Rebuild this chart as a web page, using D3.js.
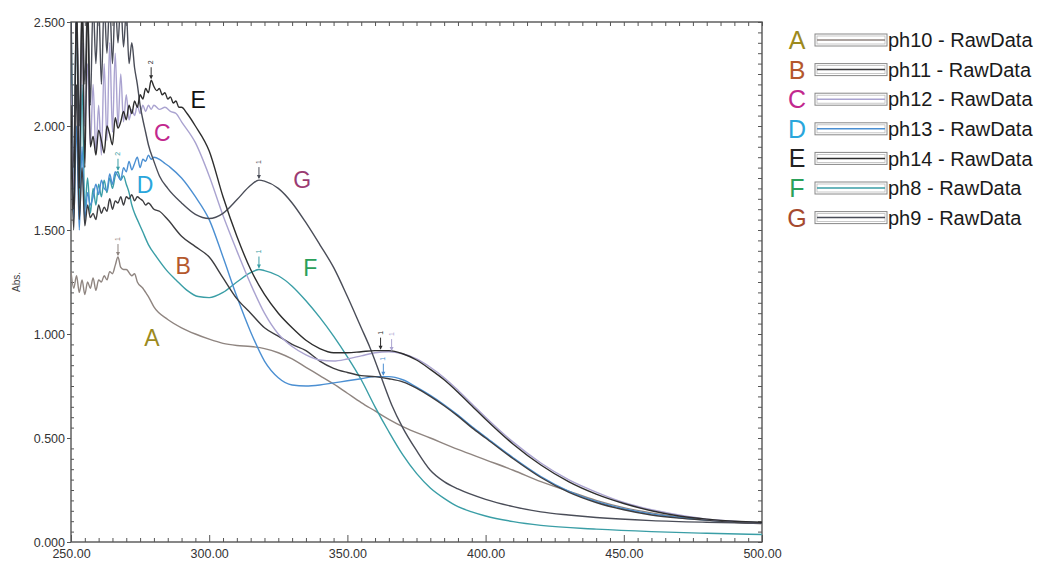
<!DOCTYPE html>
<html>
<head>
<meta charset="utf-8">
<script src="https://cdn.jsdelivr.net/npm/d3@7"></script>
<style>
body { margin: 0; background: #fff; }
svg text { font-family: "Liberation Sans", Arial, sans-serif; }
</style>
</head>
<body>
<svg id="chart" width="1037" height="567"></svg>
<script>
// absorbance spectra, [wavelength nm, Abs.]
var ph10 = [[250,1.30],[251,1.22],[252,1.28],[253,1.20],[254,1.26],[255,1.19],[256,1.25],[257,1.22],[258,1.27],[259,1.21],[260,1.26],[261,1.25],[262,1.28],[263,1.26],[264,1.30],[265,1.29],[266,1.33],[267,1.37],[268,1.32],[269,1.31],[270,1.31],[272,1.28],[273,1.29],[274,1.25],[276,1.22],[277,1.20],[278,1.18],[280,1.13],[285,1.07],[290,1.03],[295,1.00],[300,0.975],[305,0.955],[310,0.945],[315,0.94],[320,0.93],[325,0.91],[330,0.88],[335,0.84],[340,0.80],[345,0.76],[350,0.715],[355,0.67],[360,0.63],[365,0.59],[370,0.555],[380,0.50],[390,0.445],[400,0.395],[410,0.345],[420,0.29],[430,0.245],[440,0.20],[450,0.165],[460,0.14],[470,0.12],[480,0.105],[490,0.095],[500,0.088]];
var ph11 = [[250,1.90],[251,1.50],[252,2.20],[253,1.55],[254,1.80],[255,1.52],[256,1.62],[257,1.56],[258,1.58],[259,1.55],[260,1.62],[261,1.58],[262,1.61],[263,1.59],[264,1.65],[265,1.60],[266,1.64],[267,1.63],[268,1.66],[269,1.62],[270,1.66],[271,1.65],[272,1.67],[273,1.64],[274,1.66],[275,1.65],[276,1.64],[277,1.62],[278,1.63],[280,1.60],[282,1.59],[285,1.55],[290,1.47],[295,1.42],[300,1.37],[305,1.27],[310,1.17],[315,1.10],[320,1.03],[325,0.99],[330,0.95],[335,0.92],[340,0.87],[345,0.835],[350,0.815],[355,0.80],[360,0.795],[365,0.785],[370,0.77],[375,0.74],[380,0.70],[385,0.655],[390,0.605],[395,0.55],[400,0.50],[410,0.40],[420,0.31],[430,0.24],[440,0.19],[450,0.155],[460,0.13],[470,0.115],[480,0.105],[490,0.095],[500,0.09]];
var ph12 = [[250,2.20],[251,1.70],[252,2.60],[253,1.80],[254,2.40],[255,2.00],[256,2.30],[257,1.90],[258,2.20],[259,1.87],[260,2.10],[261,1.86],[262,2.30],[263,1.93],[264,2.40],[265,1.97],[266,2.35],[267,2.00],[268,2.25],[269,2.02],[270,2.15],[271,2.03],[272,2.08],[273,2.05],[274,2.10],[275,2.06],[276,2.10],[277,2.07],[278,2.10],[279,2.08],[280,2.10],[282,2.08],[284,2.09],[286,2.07],[288,2.06],[290,2.02],[295,1.92],[300,1.76],[305,1.57],[310,1.40],[315,1.24],[320,1.10],[325,1.00],[330,0.94],[335,0.90],[340,0.875],[345,0.87],[350,0.88],[355,0.895],[360,0.91],[365,0.915],[370,0.905],[375,0.88],[380,0.84],[385,0.79],[390,0.73],[395,0.665],[400,0.60],[410,0.48],[420,0.38],[430,0.30],[440,0.24],[450,0.19],[460,0.155],[470,0.13],[480,0.11],[490,0.10],[500,0.09]];
var ph13 = [[250,2.30],[251,1.55],[252,2.00],[253,1.50],[254,1.90],[255,1.55],[256,1.68],[257,1.62],[258,1.66],[259,1.72],[260,1.67],[261,1.74],[262,1.70],[263,1.69],[264,1.77],[265,1.72],[266,1.78],[267,1.76],[268,1.74],[269,1.80],[270,1.78],[271,1.83],[272,1.79],[273,1.82],[274,1.85],[275,1.80],[276,1.84],[277,1.83],[278,1.86],[279,1.84],[280,1.85],[282,1.84],[284,1.82],[286,1.80],[290,1.75],[295,1.66],[300,1.55],[305,1.37],[310,1.18],[315,1.01],[320,0.87],[325,0.79],[330,0.755],[335,0.75],[340,0.755],[345,0.765],[350,0.775],[355,0.785],[360,0.795],[365,0.795],[370,0.78],[375,0.745],[380,0.705],[385,0.66],[390,0.61],[395,0.555],[400,0.505],[410,0.405],[420,0.315],[430,0.245],[440,0.195],[450,0.16],[460,0.135],[470,0.118],[480,0.105],[490,0.097],[500,0.092]];
var ph14 = [[250,2.10],[251,1.60],[252,2.60],[253,1.70],[254,2.60],[255,1.80],[256,2.60],[257,1.90],[258,1.95],[259,1.86],[260,1.98],[261,1.93],[262,1.87],[263,2.00],[264,1.96],[265,1.91],[266,2.04],[267,1.99],[268,2.02],[269,2.07],[270,2.03],[271,2.10],[272,2.06],[273,2.12],[274,2.09],[275,2.15],[276,2.13],[277,2.18],[278,2.16],[279,2.22],[280,2.19],[281,2.17],[282,2.18],[283,2.15],[284,2.16],[285,2.13],[286,2.14],[287,2.11],[288,2.12],[289,2.09],[290,2.09],[292,2.06],[295,2.00],[300,1.88],[305,1.66],[310,1.47],[315,1.31],[320,1.19],[325,1.10],[330,1.03],[335,0.97],[340,0.93],[345,0.91],[350,0.91],[355,0.915],[360,0.92],[365,0.92],[370,0.905],[375,0.875],[380,0.83],[385,0.78],[390,0.72],[395,0.655],[400,0.59],[410,0.47],[420,0.37],[430,0.29],[440,0.23],[450,0.185],[460,0.15],[470,0.125],[480,0.11],[490,0.10],[500,0.095]];
var ph8 = [[250,2.60],[251,1.70],[252,2.60],[253,1.60],[254,2.20],[255,1.60],[256,1.75],[257,1.58],[258,1.70],[259,1.62],[260,1.72],[261,1.66],[262,1.74],[263,1.68],[264,1.75],[265,1.70],[266,1.76],[267,1.78],[268,1.74],[269,1.76],[270,1.72],[271,1.68],[272,1.62],[273,1.58],[274,1.55],[276,1.49],[278,1.43],[281,1.37],[285,1.30],[288,1.26],[292,1.21],[296,1.18],[300,1.175],[305,1.20],[310,1.25],[315,1.295],[318,1.31],[320,1.305],[325,1.28],[330,1.23],[335,1.16],[340,1.08],[345,0.99],[350,0.89],[355,0.78],[360,0.65],[365,0.53],[370,0.42],[375,0.33],[380,0.26],[385,0.21],[390,0.17],[395,0.145],[400,0.125],[410,0.098],[420,0.08],[440,0.062],[460,0.05],[480,0.042],[500,0.036]];
var ph9 = [[250,2.60],[251,1.80],[252,2.60],[253,2.00],[254,2.60],[255,2.20],[256,2.60],[257,2.10],[258,2.60],[259,2.30],[260,2.60],[261,2.20],[262,2.60],[263,2.35],[264,2.60],[265,2.30],[266,2.60],[267,2.40],[268,2.60],[269,2.38],[270,2.55],[271,2.30],[272,2.40],[273,2.28],[274,2.20],[275,2.10],[276,2.03],[277,1.97],[278,1.91],[280,1.83],[282,1.76],[285,1.70],[290,1.63],[295,1.575],[300,1.555],[305,1.58],[310,1.645],[315,1.715],[318,1.74],[320,1.735],[325,1.70],[330,1.63],[335,1.535],[340,1.43],[345,1.32],[350,1.18],[355,1.03],[358,0.94],[362,0.80],[366,0.66],[370,0.55],[375,0.44],[380,0.345],[385,0.29],[390,0.255],[400,0.205],[410,0.17],[420,0.145],[430,0.13],[440,0.118],[460,0.103],[480,0.095],[500,0.09]];

var seriesNames = ["ph10 - RawData", "ph11 - RawData", "ph12 - RawData", "ph13 - RawData", "ph14 - RawData", "ph8 - RawData", "ph9 - RawData"];
var seriesLetters = ["A", "B", "C", "D", "E", "F", "G"];
var seriesData = [ph10, ph11, ph12, ph13, ph14, ph8, ph9];
var lineColors = ["#8f8580", "#3d3d40", "#aaa3d0", "#4b8fd2", "#2e2e2e", "#3a9ea6", "#4a4d58"];
var letterColors = ["#9c8a1e", "#b4582c", "#c2288e", "#2aa6dc", "#222222", "#2aa05a", "#a64a2e"];
var drawOrder = [0, 5, 3, 1, 2, 6, 4];

var xTicks = [250, 300, 350, 400, 450, 500];
var yTicks = [0, 0.5, 1.0, 1.5, 2.0, 2.5];

// letters written on the plot, [series index, nm, Abs.]
var curveLabels = [[4, 296, 2.125], [2, 283, 1.97], [3, 276.8, 1.72], [6, 333.6, 1.74], [5, 336.6, 1.32], [1, 290.6, 1.33], [0, 279.3, 0.98]];
var curveLabelColors = ["#9c8a1e", "#b4582c", "#c2288e", "#2aa6dc", "#111111", "#2aa05a", "#9b3b72"];
// peak picks, [series index, nm, pick number]
var peaks = [[0, 267, "1"], [5, 267, "2"], [4, 279, "2"], [6, 318, "1"], [5, 318, "1"], [4, 362, "1"], [2, 366, "1"], [3, 363, "1"]];

var svg = d3.select("#chart");
// plot frame in pixels (note: "top" is a reserved window global, so use px*)
var pxLeft = 71, pxRight = 762, pxTop = 22, pxBottom = 542;

var x = d3.scaleLinear().domain([250, 500]).range([pxLeft, pxRight]);
var y = d3.scaleLinear().domain([0, 2.5]).range([pxBottom, pxTop]);

svg.append("defs").append("clipPath").attr("id", "plotclip")
  .append("rect")
    .attr("x", pxLeft).attr("y", pxTop)
    .attr("width", pxRight - pxLeft).attr("height", pxBottom - pxTop);

// ---- axes: minor ticks every 5 nm / 0.05, all pointing into the frame
var minorX = d3.range(250, 501, 5).filter(function(v) { return v % 50 != 0; });
var minorY = d3.range(0, 51).map(function(i) { return i * 0.05; })
  .filter(function(v) { return Math.round(v * 100) % 50 != 0; });

function styleAxis(g) {
  g.select(".domain").remove();
  g.selectAll("line").attr("stroke", "#555").attr("stroke-width", 1);
  g.selectAll("text").attr("fill", "#333").attr("font-size", "12.5px");
}

svg.append("g").attr("transform", "translate(0," + pxBottom + ")")
  .call(d3.axisBottom(x).tickValues(minorX).tickSize(-4).tickFormat(""))
  .call(styleAxis);
svg.append("g").attr("transform", "translate(0," + pxBottom + ")")
  .call(d3.axisBottom(x).tickValues(xTicks).tickSize(-7).tickPadding(7)
    .tickFormat(d3.format(".2f")))
  .call(styleAxis);
svg.append("g").attr("transform", "translate(0," + pxTop + ")")
  .call(d3.axisTop(x).tickValues(d3.range(250, 501, 5)).tickSize(-4).tickFormat(""))
  .call(styleAxis);

svg.append("g").attr("transform", "translate(" + pxLeft + ",0)")
  .call(d3.axisLeft(y).tickValues(minorY).tickSize(-3).tickFormat(""))
  .call(styleAxis);
svg.append("g").attr("transform", "translate(" + pxLeft + ",0)")
  .call(d3.axisLeft(y).tickValues(yTicks).tickSize(4).tickPadding(2)
    .tickFormat(d3.format(".3f")))
  .call(styleAxis);
svg.append("g").attr("transform", "translate(" + pxRight + ",0)")
  .call(d3.axisRight(y).tickValues(minorY.concat(yTicks)).tickSize(-4).tickFormat(""))
  .call(styleAxis);

svg.append("rect")
  .attr("x", pxLeft).attr("y", pxTop)
  .attr("width", pxRight - pxLeft).attr("height", pxBottom - pxTop)
  .attr("fill", "none").attr("stroke", "#555").attr("stroke-width", 1.4);

svg.append("text")
  .attr("transform", "translate(20," + y(1.25) + ") rotate(-90)")
  .attr("text-anchor", "middle")
  .attr("font-size", "10px").attr("fill", "#444")
  .text("Abs.");

// ---- spectra
var line = d3.line()
  .x(function(d) { return x(d[0]); })
  .y(function(d) { return y(d[1]); })
  .curve(d3.curveMonotoneX);

svg.append("g").attr("clip-path", "url(#plotclip)")
  .selectAll("path")
  .data(drawOrder)
  .enter().append("path")
    .attr("d", function(i) { return line(seriesData[i]); })
    .attr("fill", "none")
    .attr("stroke", function(i) { return lineColors[i]; })
    .attr("stroke-width", 1.4)
    .attr("stroke-linejoin", "round");

// peak pick arrows with their little sideways number
function valueAt(i, nm) {
  var p = seriesData[i].find(function(d) { return d[0] == nm; });
  if (p) return p[1];
  var interp = d3.scaleLinear()
    .domain(seriesData[i].map(function(d) { return d[0]; }))
    .range(seriesData[i].map(function(d) { return d[1]; }));
  return interp(nm);
}
var pk = svg.append("g").selectAll("g")
  .data(peaks)
  .enter().append("g")
    .attr("transform", function(d) {
      return "translate(" + x(d[1]) + "," + y(valueAt(d[0], d[1])) + ")";
    });
pk.append("line")
  .attr("x1", 0).attr("x2", 0).attr("y1", -13).attr("y2", -2)
  .attr("stroke", function(d) { return lineColors[d[0]]; })
  .attr("stroke-width", 1);
pk.append("path")
  .attr("d", "M-2,-5L0,-1L2,-5Z")
  .attr("fill", function(d) { return lineColors[d[0]]; });
pk.append("text")
  .attr("transform", "translate(2,-16) rotate(-90)")
  .attr("font-size", "7px")
  .attr("fill", function(d) { return lineColors[d[0]]; })
  .text(function(d) { return d[2]; });

// ---- letters on the curves
svg.append("g").selectAll("text")
  .data(curveLabels)
  .enter().append("text")
    .attr("x", function(d) { return x(d[1]); })
    .attr("y", function(d) { return y(d[2]); })
    .attr("dy", "0.36em")
    .attr("text-anchor", "middle")
    .attr("font-family", "'Open Sans', sans-serif")
    .attr("font-size", "23px")
    .attr("fill", function(d) { return curveLabelColors[d[0]]; })
    .text(function(d) { return seriesLetters[d[0]]; });

// ---- legend
var leg = svg.append("g").selectAll("g")
  .data(seriesNames)
  .enter().append("g")
    .attr("transform", function(d, i) { return "translate(0," + (40 + i * 29.6) + ")"; });
leg.append("text")
  .attr("x", 797).attr("dy", "0.36em")
  .attr("text-anchor", "middle")
  .attr("font-family", "'Open Sans', sans-serif")
  .attr("font-size", "25px")
  .attr("fill", function(d, i) { return letterColors[i]; })
  .text(function(d, i) { return seriesLetters[i]; });
leg.append("rect")
  .attr("x", 815).attr("y", -6).attr("width", 72).attr("height", 12)
  .attr("fill", "none").attr("stroke", "#888").attr("stroke-width", 1);
leg.append("rect")
  .attr("x", 817).attr("y", -4).attr("width", 68).attr("height", 8)
  .attr("fill", "none").attr("stroke", "#bbb").attr("stroke-width", 0.8);
leg.append("line")
  .attr("x1", 817).attr("x2", 885).attr("y1", 0).attr("y2", 0)
  .attr("stroke", function(d, i) { return lineColors[i]; })
  .attr("stroke-width", 1.5);
leg.append("text")
  .attr("x", 888).attr("dy", "0.36em")
  .attr("font-size", "20px").attr("fill", "#1a1a1a")
  .text(function(d) { return d; });
</script>
</body>
</html>
